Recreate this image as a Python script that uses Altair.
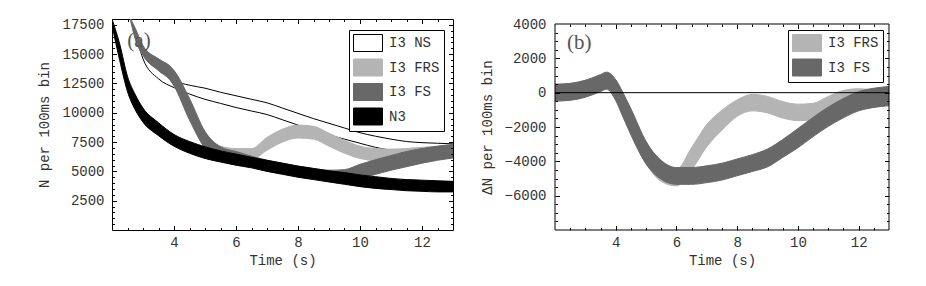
import altair as alt
import pandas as pd

MONO = "Courier New, Liberation Mono, monospace"
SERIF = "Times New Roman, Liberation Serif, serif"
TXT = "#333333"

# ---------------- panel (a): N per 100ms bin ----------------
A_NAMES = ["I3 NS", "I3 FRS", "I3 FS", "N3"]
A_FILLS = ["#ffffff", "#b4b4b4", "#686868", "#000000"]
A_STROKES = ["#000000", "#b4b4b4", "#686868", "#000000"]

NS_T = [2.85, 3.0, 3.5, 4.0, 4.5, 5.0, 5.5, 6.0, 6.5, 7.0, 7.5, 8.0, 8.5, 9.0, 9.5, 10.0, 10.5, 11.0, 11.5, 12.0, 12.5, 13.0]
NS_LO = [15800, 14600, 12900, 12150, 11600, 11150, 10800, 10450, 10150, 9850, 9400, 8950, 8500, 8100, 7750, 7400, 7050, 6800, 6600, 6500, 6450, 6450]
NS_HI = [15800, 15100, 13700, 12750, 12350, 12100, 11750, 11450, 11150, 10850, 10400, 9950, 9500, 9100, 8700, 8300, 8000, 7750, 7550, 7450, 7400, 7350]

F_T = [2.6, 2.75, 3.0, 3.5, 3.9, 4.0, 4.5, 5.0, 5.5, 6.0, 6.5, 7.0, 7.5, 8.0, 8.5, 9.0, 9.5, 10.0, 10.5, 11.0, 11.5, 12.0, 12.5, 13.0]
FRS_LO = [17900, 16300, 14900, 13600, 12700, 12300, 9400, 7000, 6200, 5950, 6000, 6800, 7500, 7850, 7750, 7150, 6550, 6100, 5900, 5800, 5850, 5950, 6050, 6150]
FRS_HI = [18900, 17200, 15700, 14600, 13900, 13600, 11200, 8400, 7150, 6950, 6950, 7900, 8600, 8950, 8850, 8250, 7650, 7150, 6950, 6900, 6950, 7050, 7150, 7300]
FS_LO = [17900, 16300, 14900, 13600, 12700, 12300, 9400, 7000, 6100, 5750, 5450, 5100, 4850, 4600, 4400, 4300, 4300, 4400, 4750, 5100, 5400, 5700, 5950, 6150]
FS_HI = [18900, 17200, 15700, 14600, 13900, 13600, 11200, 8400, 7100, 6700, 6300, 5950, 5700, 5450, 5250, 5100, 5150, 5600, 6000, 6350, 6700, 6950, 7150, 7300]

N3_T = [2.0, 2.25, 2.5, 2.75, 3.0, 3.5, 4.0, 4.5, 5.0, 5.5, 6.0, 6.5, 7.0, 7.5, 8.0, 8.5, 9.0, 9.5, 10.0, 10.5, 11.0, 11.5, 12.0, 12.5, 13.0]
N3_LO = [17450, 14450, 11800, 10250, 9200, 8050, 7150, 6550, 6100, 5800, 5525, 5300, 5000, 4750, 4500, 4300, 4100, 3900, 3700, 3550, 3450, 3350, 3300, 3250, 3250]
N3_HI = [18850, 15850, 13100, 11550, 10400, 9150, 8150, 7550, 7100, 6750, 6475, 6200, 5950, 5700, 5450, 5250, 5050, 4900, 4700, 4550, 4400, 4300, 4250, 4200, 4150]

A_YLABELS = [2500, 5000, 7500, 10000, 12500, 15000, 17500]
A_YTICKS = [500 * k for k in range(1, 36)]
A_LABEL = ["(a)"]
A_LABEL_T = [2.87]
A_LABEL_V = [16100]

# ---------------- panel (b): delta N ----------------
B_NAMES = ["I3 FRS", "I3 FS"]
B_FILLS = ["#b4b4b4", "#686868"]

R_T = [2.0, 2.5, 3.0, 3.5, 3.7, 4.0, 4.25, 4.5, 5.0, 5.5, 6.0, 6.5, 7.0, 7.5, 8.0, 8.5, 9.0, 9.5, 10.0, 10.5, 11.0, 11.5, 12.0, 12.5, 13.0]
R_FRS_LO = [-490, -440, -260, 70, 210, -450, -1450, -2450, -4150, -5170, -5430, -4500, -3150, -2180, -1380, -1060, -1180, -1480, -1630, -1580, -1180, -830, -730, -780, -680]
R_FRS_HI = [490, 540, 720, 1050, 1190, 750, -50, -950, -2850, -4130, -4470, -3200, -1850, -1020, -420, -100, -220, -520, -670, -620, -220, 130, 230, 180, 280]
R_FS_LO = [-490, -440, -260, 70, 210, -450, -1450, -2450, -4150, -5050, -5340, -5340, -5240, -5090, -4840, -4590, -4320, -3770, -3210, -2560, -1960, -1460, -1060, -860, -760]
R_FS_HI = [490, 540, 720, 1050, 1190, 750, -50, -950, -2850, -3950, -4360, -4360, -4260, -4110, -3860, -3610, -3280, -2730, -2090, -1440, -840, -340, 60, 260, 360]

B_YLABELS = [-6000, -4000, -2000, 0, 2000, 4000]
B_YTICKS = [-7500 + 500 * k for k in range(0, 23)]
B_FRAME_X = [2, 13]
B_FRAME_Y = [-8000, 4000]
B_LABEL = ["(b)"]
B_LABEL_T = [2.8]
B_LABEL_V = [2900]

X_LABELS = [4, 6, 8, 10, 12]
X_TICKS = [2.5 + 0.5 * k for k in range(0, 21)]

# ---------------- helpers ----------------
SWATCH = "M-1,-1H2.41V1H-1Z"
AW, AH = 341, 211
BW, BH = 334, 211          # panel (b) frame is 206 px tall, drawn 5 px below the group top
B_GAP = 5
xscale = alt.Scale(domain=[2, 13], nice=False, zero=False)
ya_scale = alt.Scale(domain=[0, 18000], nice=False, zero=False, clamp=True)
yb_scale = alt.Scale(domain=[-8000, 4000 + 12000 * B_GAP / (BH - B_GAP)], nice=False, zero=False, clamp=True)


def band(t, lo, hi, name):
    return pd.DataFrame({"t": t, "lo": lo, "hi": hi, "series": name})


def tick_axis(orient, offset, values, test):
    return alt.Axis(orient=orient, offset=offset, values=values, labels=False,
                    domain=False, grid=False, ticks=True, tickColor="black",
                    tickWidth=1, title=None, zindex=1,
                    tickSize={"condition": {"test": test, "value": 4.5}, "value": 2.5})


def legend(lx, ly):
    return alt.Legend(orient="none", legendX=lx, legendY=ly, title=None,
                      symbolType=SWATCH, symbolSize=289, symbolStrokeWidth=1,
                      labelOffset=18, padding=4, rowPadding=2.5,
                      strokeColor="black", fillColor="white",
                      labelFont=MONO, labelFontSize=14, labelColor=TXT)


def area_layer(df, xax, yax, yscale, names, fills, strokes, leg):
    return alt.Chart(df).mark_area(interpolate="monotone", clip=True, strokeWidth=1).encode(
        x=alt.X("t:Q", scale=xscale, axis=xax),
        y=alt.Y("lo:Q", scale=yscale, axis=yax),
        y2="hi:Q",
        fill=alt.Fill("series:N", scale=alt.Scale(domain=names, range=fills), legend=leg),
        stroke=alt.Stroke("series:N", scale=alt.Scale(domain=names, range=strokes), legend=leg),
    )


x_lab = alt.Axis(orient="bottom", values=X_LABELS, ticks=False, domain=False, grid=False,
                 labelPadding=5, title="Time (s)", titlePadding=4, format="d")
XT = "datum.value % 2 === 0"

# panel (a)
ay_lab = alt.Axis(orient="left", values=A_YLABELS, ticks=False, domain=False, grid=False,
                  labelPadding=8, title="N per 100ms bin", titlePadding=10, format="d")
AT = "datum.value % 2500 === 0"
leg_a = legend(237, 11)

a_ns = area_layer(band(NS_T, NS_LO, NS_HI, "I3 NS"), x_lab, ay_lab, ya_scale, A_NAMES, A_FILLS, A_STROKES, leg_a)
a_frs = area_layer(band(F_T, FRS_LO, FRS_HI, "I3 FRS"), tick_axis("top", -AH, X_TICKS, XT),
                   tick_axis("right", -AW, A_YTICKS, AT), ya_scale, A_NAMES, A_FILLS, A_STROKES, leg_a)
a_fs = area_layer(band(F_T, FS_LO, FS_HI, "I3 FS"), tick_axis("bottom", -AH, X_TICKS, XT),
                  tick_axis("left", -AW, A_YTICKS, AT), ya_scale, A_NAMES, A_FILLS, A_STROKES, leg_a)
a_n3 = area_layer(band(N3_T, N3_LO, N3_HI, "N3"), None, None, ya_scale, A_NAMES, A_FILLS, A_STROKES, leg_a)
a_txt = alt.Chart(pd.DataFrame({"t": A_LABEL_T, "v": A_LABEL_V, "txt": A_LABEL})).mark_text(
    font=SERIF, fontSize=21, color="#555555").encode(
    x=alt.X("t:Q", scale=xscale, axis=None),
    y=alt.Y("v:Q", scale=ya_scale, axis=None),
    text="txt:N")

left = alt.layer(a_ns, a_frs, a_fs, a_n3, a_txt).resolve_axis(
    x="independent", y="independent").properties(width=AW, height=AH)

# panel (b)
by_lab = alt.Axis(orient="left", values=B_YLABELS, ticks=False, domain=False, grid=False,
                  labelPadding=9, title="\u0394N per 100ms bin", titlePadding=9, format="d",
                  titleY=B_GAP + (BH - B_GAP) / 2)
BT = "datum.value % 2000 === 0"
leg_b = legend(233, 11)

b_frs = area_layer(band(R_T, R_FRS_LO, R_FRS_HI, "I3 FRS"), x_lab, by_lab, yb_scale,
                   B_NAMES, B_FILLS, B_FILLS, leg_b)
b_fs = area_layer(band(R_T, R_FS_LO, R_FS_HI, "I3 FS"), tick_axis("top", -BH, X_TICKS, XT),
                  tick_axis("right", -BW, B_YTICKS, BT), yb_scale, B_NAMES, B_FILLS, B_FILLS, leg_b)
b_rule = alt.Chart(pd.DataFrame({"z": [0]})).mark_rule(color="black", strokeWidth=1).encode(
    y=alt.Y("z:Q", scale=yb_scale, axis=None))
b_txt = alt.Chart(pd.DataFrame({"t": B_LABEL_T, "v": B_LABEL_V, "txt": B_LABEL})).mark_text(
    font=SERIF, fontSize=21, color="#555555").encode(
    x=alt.X("t:Q", scale=xscale, axis=tick_axis("bottom", -(BH - B_GAP), X_TICKS, XT)),
    y=alt.Y("v:Q", scale=yb_scale, axis=tick_axis("left", -BW, B_YTICKS, BT)),
    text="txt:N")
b_frame = alt.Chart(pd.DataFrame({"x1": [B_FRAME_X[0]], "x2": [B_FRAME_X[1]],
                                  "y1": [B_FRAME_Y[0]], "y2": [B_FRAME_Y[1]]})).mark_rect(
    fill="transparent", stroke="black", strokeWidth=1).encode(
    x=alt.X("x1:Q", scale=xscale, axis=None), x2="x2:Q",
    y=alt.Y("y1:Q", scale=yb_scale, axis=None), y2="y2:Q")

right = alt.layer(b_frs, b_fs, b_rule, b_txt, b_frame).resolve_axis(
    x="independent", y="independent").properties(
    width=BW, height=BH, view=alt.ViewBackground(stroke="transparent"))

chart = alt.hconcat(left, right, spacing=26).resolve_scale(
    fill="independent", stroke="independent").resolve_legend(
    fill="independent", stroke="independent").properties(
    padding={"left": 29, "top": 8, "right": 5, "bottom": 5}).configure_view(
    stroke="black", strokeWidth=1).configure_axis(
    labelFont=MONO, labelFontSize=14, labelColor=TXT,
    titleFont=MONO, titleFontSize=14, titleFontWeight="normal", titleColor=TXT)

chart.save("out.html", embed_options={"renderer": "svg", "actions": False})
